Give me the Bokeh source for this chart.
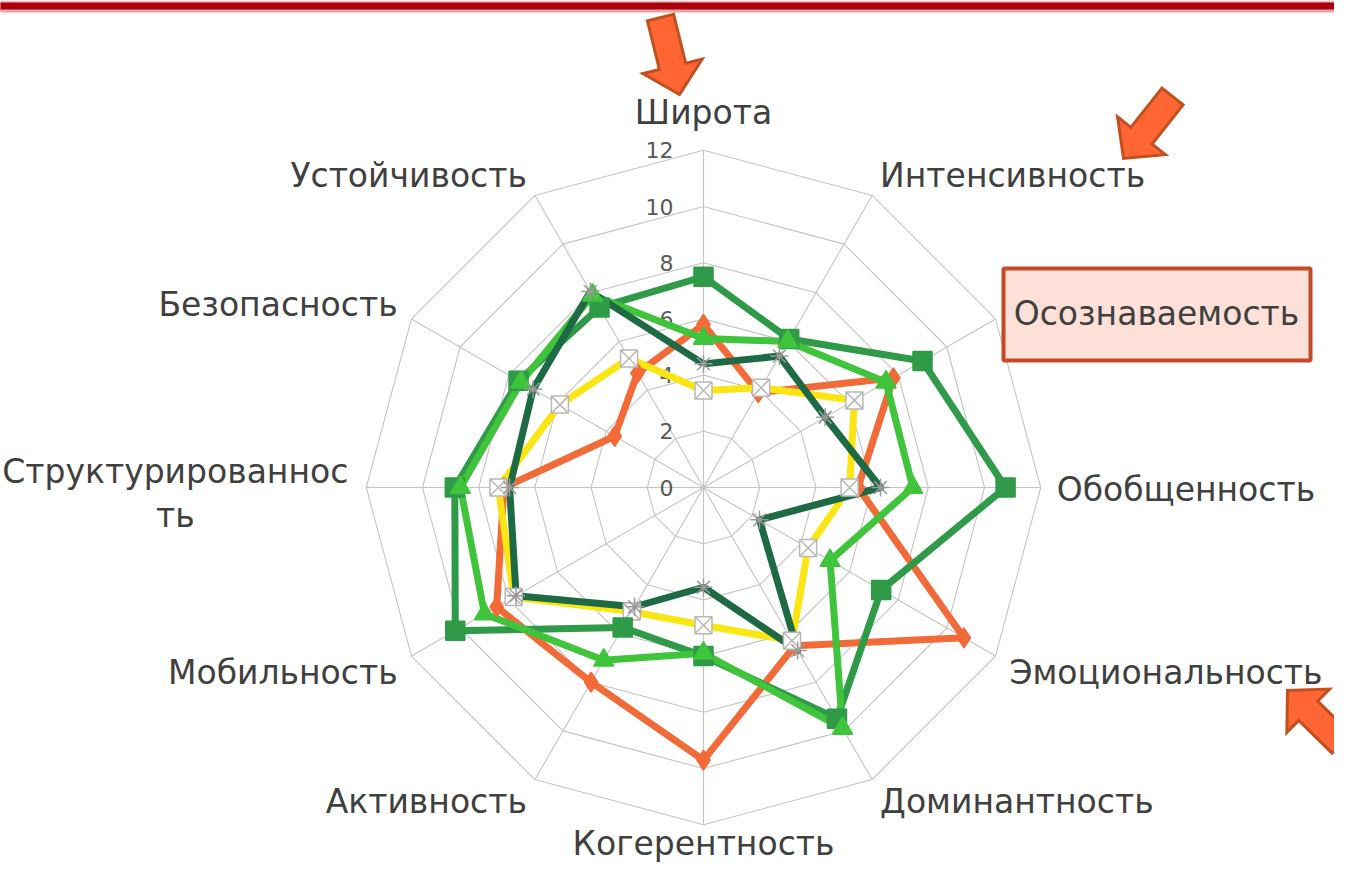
import numpy as np
from bokeh.plotting import figure
from bokeh.models import Range1d
from bokeh.embed import file_html
from bokeh.resources import INLINE
from bokeh.core.properties import value

# ---------------- data ----------------
categories = ["Широта", "Интенсивность", "Осознаваемость", "Обобщенность",
              "Эмоциональность", "Доминантность", "Когерентность", "Активность",
              "Мобильность", "Структурированность", "Безопасность", "Устойчивость"]
display_labels = ["Широта", "Интенсивность", "Осознаваемость", "Обобщенность",
                  "Эмоциональность", "Доминантность", "Когерентность", "Активность",
                  "Мобильность", "Структурированнос\nть", "Безопасность", "Устойчивость"]
ring_ticks = [0, 2, 4, 6, 8, 10, 12]

series_orange = [5.8, 3.9, 7.8, 5.5, 10.7, 6.5, 9.7, 8.0, 8.5, 7.1, 3.65, 4.7]
series_yellow = [3.45, 4.1, 6.2, 5.2, 4.3, 6.3, 4.9, 5.1, 7.8, 7.3, 5.9, 5.3]
series_light = [5.3, 6.0, 7.5, 7.45, 5.2, 9.9, 5.9, 7.1, 9.0, 8.65, 7.5, 7.9]
series_medium = [7.5, 6.1, 9.0, 10.75, 7.3, 9.5, 6.0, 5.75, 10.2, 8.85, 7.6, 7.4]
series_dark = [4.4, 5.4, 5.0, 6.3, 2.3, 6.7, 3.55, 4.9, 7.7, 6.9, 7.0, 8.05]

# ---------------- layout ----------------
W, H = 1334, 868
CX, CY, UNIT = 703.0, 487.0, 28.1
N = len(categories)
ang = np.arange(N) * 2 * np.pi / N
S, C = np.sin(ang), np.cos(ang)

p = figure(width=W, height=H, output_backend="svg", toolbar_location=None,
           x_range=Range1d(0, W), y_range=Range1d(H, 0),
           min_border=0)
p.axis.visible = False
p.grid.visible = False
p.outline_line_color = None
p.background_fill_color = "white"
p.border_fill_color = "white"


def pol(vals):
    v = np.asarray(vals, dtype=float)
    return CX + v * UNIT * S, CY - v * UNIT * C


# top red bar
p.quad(left=0, right=W, top=0.5, bottom=2.5, color="#EFB9B9")
p.quad(left=0, right=W, top=2.5, bottom=9.5, color="#AD000E")
p.quad(left=0, right=W, top=9.5, bottom=11.5, color="#E9A6A6")

# grid: rings + spokes
maxv = max(ring_ticks)
for t in ring_ticks[1:]:
    xs, ys = pol([t] * N)
    p.line(list(xs) + [xs[0]], list(ys) + [ys[0]], line_color="#C4C4C4", line_width=1.1)
ox, oy = pol([maxv] * N)
p.segment(x0=[CX] * N, y0=[CY] * N, x1=ox, y1=oy, line_color="#C4C4C4", line_width=1.1)

# ring tick labels
p.text(x=[CX - 30] * len(ring_ticks), y=[CY - t * UNIT for t in ring_ticks],
       text=[str(t) for t in ring_ticks], text_align="right", text_baseline="middle",
       text_font=value("DejaVu Sans"), text_font_size="22px", text_color="#595959")

# series
series = [
    (series_orange, "#F26A37", "diamond", "#F26A37", "#F26A37", 20),
    (series_yellow, "#FBE614", "square_x", "white", "#B8B8B8", 17),
    (series_medium, "#2F9A47", "square", "#2F9A47", "#2F9A47", 19),
    (series_light, "#3FC43C", "triangle", "#3FC43C", "#3FC43C", 20),
    (series_dark, "#1D6A45", "asterisk", "#1D6A45", "#9A9A9A", 18),
]
for vals, col, mk, mfill, mline, ms in series:
    xs, ys = pol(vals)
    p.line(list(xs) + [xs[0]], list(ys) + [ys[0]], line_color=col, line_width=7,
           line_join="round")
for vals, col, mk, mfill, mline, ms in series:
    xs, ys = pol(vals)
    p.scatter(xs, ys, marker=mk, size=ms, fill_color=mfill, line_color=mline, line_width=1.5)

# category labels
lab_font = value("DejaVu Sans")
FS = "33px"
for i, lab in enumerate(display_labels):
    s, c = S[i], C[i]
    vx, vy = CX + maxv * UNIT * s, CY - maxv * UNIT * c
    if abs(s) < 0.1:
        off = 38 if c > 0 else 19
        ax, ay = vx + off * s, vy - off * c
        align = "center"
    else:
        off = 16
        ax, ay = vx + off * s, vy - off * c + (-6 if c > 0.1 else (8 if c < -0.1 else 2))
        align = "left" if s > 0 else "right"
    lines = lab.split("\n")
    if len(lines) > 1:
        cxl = ax - 175 if s < 0 else ax + 175
        for k, ln in enumerate(lines):
            p.text(x=[cxl], y=[ay - 18 + 44 * k], text=[ln], text_align="center",
                   text_baseline="middle", text_font=lab_font, text_font_size=FS,
                   text_color="#404040")
    elif categories[i] == "Осознаваемость":
        continue
    else:
        p.text(x=[ax], y=[ay], text=[lab], text_align=align, text_baseline="middle",
               text_font=lab_font, text_font_size=FS, text_color="#404040")


# highlight box behind "Осознаваемость"
p.quad(left=1003, right=1310, top=268, bottom=360, fill_color="#FDE0D8",
       line_color="#C44A25", line_width=4)
i_hl = categories.index("Осознаваемость")
p.text(x=[1156], y=[313], text=[display_labels[i_hl]], text_align="center",
       text_baseline="middle", text_font=lab_font, text_font_size=FS, text_color="#404040")


# arrows
def arrow_poly(tail, tip, sw, hw, hl):
    t = np.array(tail, float); h = np.array(tip, float)
    d = h - t; u = d / np.linalg.norm(d); n = np.array([-u[1], u[0]])
    b = h - u * hl
    pts = [t + n * sw / 2, b + n * sw / 2, b + n * hw / 2, h, b - n * hw / 2,
           b - n * sw / 2, t - n * sw / 2]
    return [q[0] for q in pts], [q[1] for q in pts]


for tail, tip in [((660, 17), (679, 94)), ((1172, 96), (1123, 158)), ((1341, 743), (1287, 690))]:
    xs, ys = arrow_poly(tail, tip, 27, 61, 29)
    p.patch(xs, ys, fill_color="#FF6633", line_color="#C2501F", line_width=3,
            line_join="miter")

open("out.html", "w").write(file_html(p, INLINE))
